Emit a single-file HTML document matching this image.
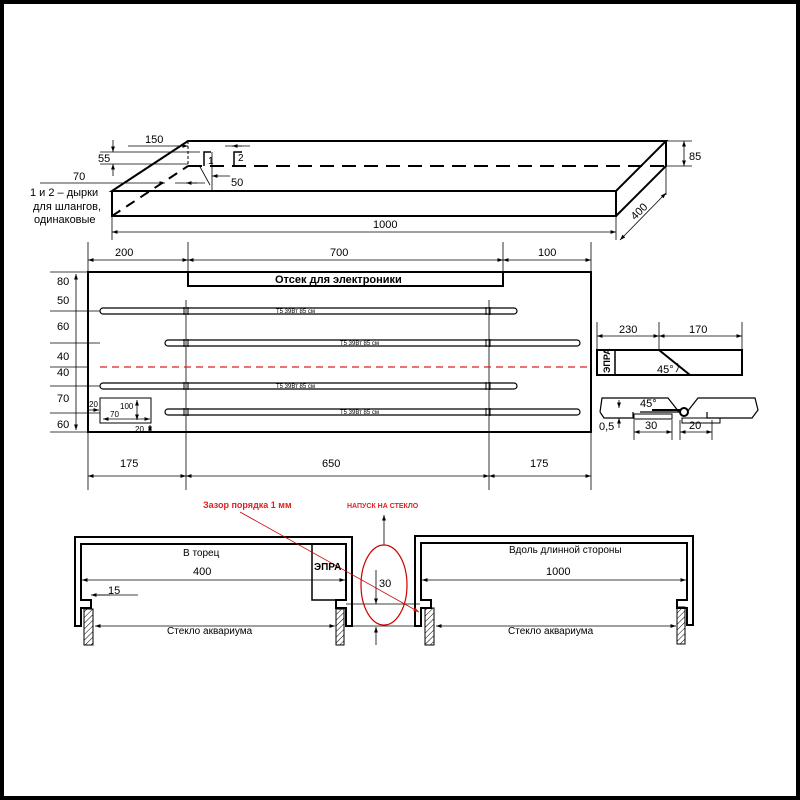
<!DOCTYPE html>
<html><head><meta charset="utf-8"><style>
html,body{margin:0;padding:0;background:#fff}
svg{display:block;font-family:"Liberation Sans","Noto Sans CJK SC",sans-serif}
</style></head><body>
<svg width="800" height="800" viewBox="0 0 800 800" xmlns="http://www.w3.org/2000/svg">
<defs>
<marker id="a" viewBox="0 0 10 10" refX="10" refY="5" markerWidth="7" markerHeight="7" orient="auto-start-reverse"><path d="M0,1.5 L10,5 L0,8.5 Z" fill="#000"/></marker>
<marker id="r" viewBox="0 0 10 10" refX="10" refY="5" markerWidth="7" markerHeight="7" orient="auto"><path d="M0,1.5 L10,5 L0,8.5 Z" fill="#d00"/></marker>
<pattern id="h" width="4" height="4" patternUnits="userSpaceOnUse" patternTransform="rotate(45)"><line x1="0" y1="0" x2="0" y2="4" stroke="#000" stroke-width="1"/></pattern>
</defs>
<rect x="2" y="2" width="796" height="796" fill="none" stroke="#000" stroke-width="4"/>

<!-- 3D box -->
<g stroke="#000" fill="none">
<path d="M112,191 L188,141 L666,141 L616,191 Z M112,191 L112,216 L616,216 L616,191 M616,216 L666,166 L666,141" stroke-width="2"/>
<path d="M188,166 L666,166" stroke-width="2" stroke-dasharray="14,8"/>
<path d="M112,216 L188,166" stroke-width="2" stroke-dasharray="10,7"/>
<path d="M188,141 L188,166" stroke-width="1" stroke-dasharray="3,2"/>
<path d="M204,166 L204,152 L211,152 M234,166 L234,152 L242,152" stroke-width="1.5"/>
<g stroke-width="0.8">
<line x1="112" y1="232" x2="616" y2="232" marker-start="url(#a)" marker-end="url(#a)"/>
<line x1="112" y1="216" x2="112" y2="240"/><line x1="616" y1="216" x2="616" y2="240"/>
<line x1="620" y1="240" x2="666" y2="193" marker-start="url(#a)" marker-end="url(#a)"/>
<line x1="666" y1="166" x2="666" y2="195"/>
<line x1="666" y1="141" x2="692" y2="141"/><line x1="666" y1="166" x2="692" y2="166"/>
<line x1="684" y1="141" x2="684" y2="166" marker-start="url(#a)" marker-end="url(#a)"/>
<line x1="100" y1="152" x2="200" y2="152"/><line x1="100" y1="164" x2="188" y2="164"/>
<line x1="113" y1="140" x2="113" y2="152" marker-end="url(#a)"/><line x1="113" y1="176" x2="113" y2="164" marker-end="url(#a)"/>
<line x1="128" y1="146" x2="175" y2="146"/><line x1="175" y1="146" x2="188" y2="146" marker-end="url(#a)"/>
<line x1="225" y1="146" x2="250" y2="146"/><line x1="242" y1="146" x2="232" y2="146" marker-end="url(#a)"/>
<line x1="40" y1="183" x2="165" y2="183" marker-end="url(#a)"/>
<line x1="175" y1="183" x2="205" y2="183"/><line x1="197" y1="183" x2="186" y2="183" marker-end="url(#a)"/>
<line x1="212" y1="152" x2="212" y2="190"/><line x1="199" y1="165" x2="210" y2="185"/>
<line x1="230" y1="176" x2="212" y2="176" marker-end="url(#a)"/>
</g>
</g>
<g font-size="11" fill="#000">
<text x="145" y="143">150</text><text x="98" y="162">55</text><text x="73" y="180">70</text>
<text x="231" y="186">50</text><text x="208" y="164" font-size="10">1</text><text x="238" y="161" font-size="10">2</text>
<text x="30" y="196">1 и 2 – дырки</text><text x="33" y="210">для шлангов,</text><text x="34" y="223">одинаковые</text>
<text x="373" y="228">1000</text><text x="689" y="160">85</text>
<text x="630" y="216" transform="rotate(-45 638 212)">400</text>
</g>

<!-- plan view -->
<g stroke="#000" fill="none">
<rect x="88" y="272" width="503" height="160" stroke-width="2"/>
<path d="M188,272 L188,286 L503,286 L503,272" stroke-width="2"/>
<g stroke-width="0.8">
<line x1="88" y1="242" x2="88" y2="490"/><line x1="188" y1="242" x2="188" y2="272"/><line x1="503" y1="242" x2="503" y2="272"/><line x1="591" y1="242" x2="591" y2="490"/>
<line x1="88" y1="260" x2="188" y2="260" marker-start="url(#a)" marker-end="url(#a)"/>
<line x1="188" y1="260" x2="503" y2="260" marker-start="url(#a)" marker-end="url(#a)"/>
<line x1="503" y1="260" x2="591" y2="260" marker-start="url(#a)" marker-end="url(#a)"/>
<line x1="186" y1="300" x2="186" y2="490"/><line x1="489" y1="300" x2="489" y2="490"/>
<line x1="88" y1="476" x2="186" y2="476" marker-start="url(#a)" marker-end="url(#a)"/>
<line x1="186" y1="476" x2="489" y2="476" marker-start="url(#a)" marker-end="url(#a)"/>
<line x1="489" y1="476" x2="591" y2="476" marker-start="url(#a)" marker-end="url(#a)"/>
<line x1="50" y1="272" x2="88" y2="272"/><line x1="50" y1="311" x2="100" y2="311"/><line x1="50" y1="343" x2="100" y2="343"/>
<line x1="50" y1="367" x2="88" y2="367"/><line x1="50" y1="386" x2="100" y2="386"/><line x1="50" y1="413" x2="100" y2="413"/><line x1="50" y1="432" x2="88" y2="432"/>
<line x1="76" y1="274" x2="76" y2="430" marker-start="url(#a)" marker-end="url(#a)"/>
</g>
<g stroke-width="1.2">
<rect x="100" y="308" width="417" height="6" rx="3"/>
<rect x="165" y="340" width="415" height="6" rx="3"/>
<rect x="100" y="383" width="417" height="6" rx="3"/>
<rect x="165" y="409" width="415" height="6" rx="3"/>
</g>
<g stroke-width="1">
<path d="M184,307v8M188,307v8M486,307v8M490,307v8M184,339v8M188,339v8M486,339v8M490,339v8M184,382v8M188,382v8M486,382v8M490,382v8M184,408v8M188,408v8M486,408v8M490,408v8"/>
</g>
<line x1="100" y1="367" x2="591" y2="367" stroke="#d22" stroke-width="1.2" stroke-dasharray="7,5"/>
<rect x="100" y="398" width="51" height="25" stroke-width="1"/>
<g stroke-width="0.8">
<line x1="88" y1="410" x2="99" y2="410" marker-end="url(#a)"/>
<line x1="137" y1="400" x2="137" y2="420" marker-start="url(#a)" marker-end="url(#a)"/>
<line x1="103" y1="419" x2="150" y2="419" marker-start="url(#a)" marker-end="url(#a)"/>
<line x1="150" y1="425" x2="150" y2="432" marker-start="url(#a)" marker-end="url(#a)"/>
</g>
</g>
<g font-size="11" fill="#000">
<text x="115" y="256">200</text><text x="330" y="256">700</text><text x="538" y="256">100</text>
<text x="275" y="283" font-weight="bold">Отсек для электроники</text>
<text x="57" y="285">80</text><text x="57" y="304">50</text><text x="57" y="330">60</text><text x="57" y="360">40</text>
<text x="57" y="376">40</text><text x="57" y="402">70</text><text x="57" y="428">60</text>
<text x="120" y="467">175</text><text x="322" y="467">650</text><text x="530" y="467">175</text>
<g font-size="6"><text x="276" y="313">T5 39Вт 85 см</text><text x="340" y="345">T5 39Вт 85 см</text><text x="276" y="388">T5 39Вт 85 см</text><text x="340" y="414">T5 39Вт 85 см</text></g>
<g font-size="8"><text x="89" y="407">20</text><text x="120" y="409">100</text><text x="110" y="417">70</text><text x="135" y="432">20</text></g>
</g>

<!-- side detail -->
<g stroke="#000" fill="none">
<rect x="597" y="350" width="145" height="25" stroke-width="2"/>
<line x1="615" y1="350" x2="615" y2="375" stroke-width="1.5"/>
<line x1="659" y1="350" x2="690" y2="375" stroke-width="2"/>
<path d="M676,372 Q680,367 677,363" stroke-width="0.8"/>
<g stroke-width="0.8">
<line x1="597" y1="322" x2="597" y2="350"/><line x1="659" y1="322" x2="659" y2="350"/><line x1="742" y1="322" x2="742" y2="350"/>
<line x1="597" y1="336" x2="659" y2="336" marker-start="url(#a)" marker-end="url(#a)"/>
<line x1="659" y1="336" x2="742" y2="336" marker-start="url(#a)" marker-end="url(#a)"/>
</g>
<path d="M600,412 L602,398 L668,398 L679,412 M687,412 L698,398 L755,398 L758,410 L752,418 L707,418 L707,412 M600,412 L604,418 L633,418 L633,412 M640,412 L679,412" stroke-width="1.2"/>
<circle cx="684" cy="412" r="4" stroke-width="2" fill="#fff"/>
<line x1="652" y1="410" x2="680" y2="410" stroke-width="2"/>
<path d="M634,414 L672,414 L672,419 L634,419 Z M682,418 L720,418 L720,423 L682,423 Z" stroke-width="1"/>
<g stroke-width="0.8">
<line x1="619" y1="400" x2="619" y2="408" marker-end="url(#a)"/><line x1="619" y1="428" x2="619" y2="418" marker-end="url(#a)"/>
<line x1="634" y1="420" x2="634" y2="440"/><line x1="672" y1="420" x2="672" y2="440"/>
<line x1="634" y1="432" x2="672" y2="432" marker-start="url(#a)" marker-end="url(#a)"/>
<line x1="680" y1="420" x2="680" y2="440"/><line x1="712" y1="420" x2="712" y2="440"/>
<line x1="680" y1="432" x2="712" y2="432" marker-start="url(#a)" marker-end="url(#a)"/>
</g>
</g>
<g font-size="11" fill="#000">
<text x="619" y="333">230</text><text x="689" y="333">170</text>
<text x="610" y="373" font-size="9" font-weight="bold" transform="rotate(-90 610 373)">ЭПРА</text>
<text x="657" y="373">45°</text><text x="640" y="407">45°</text>
<text x="599" y="430">0,5</text><text x="645" y="429">30</text><text x="689" y="429">20</text>
</g>

<!-- bottom sections -->
<g stroke="#000" fill="none" stroke-width="2">
<path d="M75,626 L75,537 L352,537 L352,626 L346,626 L346,608 L336,608 L336,600 L346,600 L346,544 L81,544 L81,600 L91,600 L91,608 L81,608 L81,626 Z"/>
<path d="M312,544 L312,600 L346,600" stroke-width="1.5"/>
<path d="M415,626 L415,536 L693,536 L693,625 L687,625 L687,608 L677,608 L677,600 L687,600 L687,543 L421,543 L421,600 L431,600 L431,608 L421,608 L421,626 Z"/>
</g>
<g stroke="#000" stroke-width="1" fill="url(#h)">
<rect x="84" y="609" width="9" height="36"/><rect x="336" y="609" width="8" height="36"/>
<rect x="425" y="608" width="9" height="37"/><rect x="677" y="607" width="8" height="37"/>
</g>
<g stroke="#000" stroke-width="0.8" fill="none">
<line x1="82" y1="580" x2="345" y2="580" marker-start="url(#a)" marker-end="url(#a)"/>
<line x1="95" y1="595" x2="138" y2="595"/><line x1="110" y1="595" x2="91" y2="595" marker-end="url(#a)"/>
<line x1="95" y1="626" x2="335" y2="626" marker-start="url(#a)" marker-end="url(#a)"/>
<line x1="422" y1="580" x2="686" y2="580" marker-start="url(#a)" marker-end="url(#a)"/>
<line x1="436" y1="626" x2="676" y2="626" marker-start="url(#a)" marker-end="url(#a)"/>
<line x1="346" y1="604" x2="420" y2="604"/><line x1="352" y1="626" x2="415" y2="626"/>
<line x1="376" y1="570" x2="376" y2="604" marker-end="url(#a)"/>
<line x1="376" y1="645" x2="376" y2="627" marker-end="url(#a)"/>
<line x1="384" y1="545" x2="384" y2="515" marker-end="url(#a)"/>
</g>
<ellipse cx="384" cy="585" rx="23" ry="40" fill="none" stroke="#c00" stroke-width="1.2"/>
<line x1="240" y1="512" x2="419" y2="612" stroke="#c00" stroke-width="0.8" marker-end="url(#r)"/>
<g font-size="11" fill="#000">
<text x="183" y="556" font-size="10">В торец</text><text x="193" y="575">400</text>
<text x="314" y="570" font-size="10" font-weight="bold">ЭПРА</text>
<text x="108" y="594">15</text><text x="167" y="634" font-size="10">Стекло аквариума</text>
<text x="379" y="587">30</text>
<text x="509" y="553" font-size="10">Вдоль длинной стороны</text><text x="546" y="575">1000</text>
<text x="508" y="634" font-size="10">Стекло аквариума</text>
<text x="203" y="508" font-size="9" font-weight="bold" fill="#d22">Зазор порядка 1 мм</text>
<text x="347" y="508" font-size="7" font-weight="bold" fill="#d22">НАПУСК НА СТЕКЛО</text>
</g>
</svg>
</body></html>
